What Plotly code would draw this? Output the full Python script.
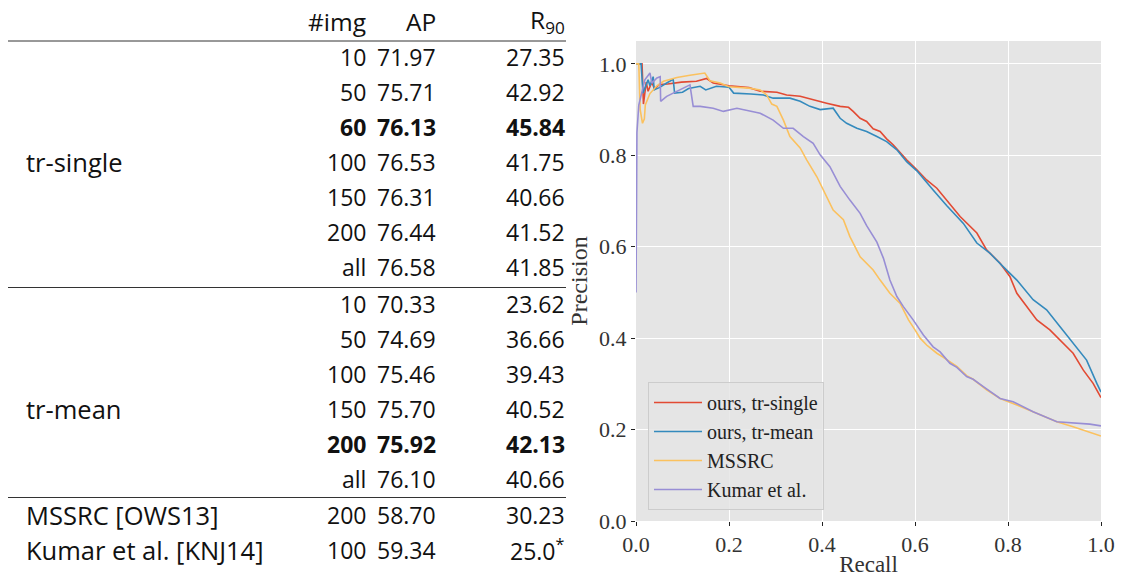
import plotly.graph_objects as go

# ---------------- table data ----------------
single_img = ["10", "50", "60", "100", "150", "200", "all"]
single_ap = ["71.97", "75.71", "76.13", "76.53", "76.31", "76.44", "76.58"]
single_r90 = ["27.35", "42.92", "45.84", "41.75", "40.66", "41.52", "41.85"]
single_bold = [False, False, True, False, False, False, False]

mean_img = ["10", "50", "100", "150", "200", "all"]
mean_ap = ["70.33", "74.69", "75.46", "75.70", "75.92", "76.10"]
mean_r90 = ["23.62", "36.66", "39.43", "40.52", "42.13", "40.66"]
mean_bold = [False, False, False, False, True, False]

other_names = ["MSSRC [OWS13]", "Kumar et al. [KNJ14]"]
other_img = ["200", "100"]
other_ap = ["58.70", "59.34"]
other_r90 = ["30.23", "25.0<sup>*</sup>"]

# ---------------- precision / recall curves ----------------
single_recall = [0.0, 0.013, 0.016, 0.022, 0.026, 0.034, 0.04, 0.05, 0.068, 0.098, 0.13, 0.152,
                 0.166, 0.2, 0.243, 0.267, 0.303, 0.324, 0.353, 0.381, 0.41, 0.439, 0.457, 0.467,
                 0.482, 0.496, 0.51, 0.525, 0.539, 0.553, 0.568, 0.582, 0.604, 0.625, 0.647, 0.668,
                 0.697, 0.733, 0.754, 0.783, 0.804, 0.819, 0.84, 0.862, 0.89, 0.919, 0.94, 0.962,
                 0.983, 1.0]
single_precision = [1.0, 1.0, 0.912, 0.96, 0.94, 0.96, 0.945, 0.955, 0.956, 0.96, 0.962, 0.968,
                    0.958, 0.952, 0.948, 0.94, 0.938, 0.932, 0.929, 0.921, 0.914, 0.907, 0.905, 0.896,
                    0.881, 0.874, 0.858, 0.852, 0.836, 0.823, 0.805, 0.79, 0.768, 0.746, 0.728, 0.702,
                    0.666, 0.63, 0.593, 0.564, 0.535, 0.498, 0.469, 0.44, 0.418, 0.389, 0.367, 0.33,
                    0.301, 0.27]

mean_recall = [0.0, 0.011, 0.015, 0.026, 0.03, 0.037, 0.039, 0.05, 0.066, 0.08, 0.083, 0.1, 0.113,
               0.138, 0.15, 0.173, 0.2, 0.21, 0.247, 0.274, 0.295, 0.331, 0.353, 0.374, 0.396,
               0.424, 0.439, 0.453, 0.475, 0.496, 0.518, 0.539, 0.561, 0.582, 0.604, 0.625, 0.639,
               0.668, 0.704, 0.733, 0.761, 0.79, 0.819, 0.854, 0.883, 0.912, 0.94, 0.969, 0.991, 1.0]
mean_precision = [1.0, 1.0, 0.936, 0.965, 0.952, 0.972, 0.943, 0.948, 0.958, 0.966, 0.936, 0.938,
                  0.946, 0.951, 0.943, 0.951, 0.949, 0.936, 0.934, 0.932, 0.925, 0.925, 0.918, 0.907,
                  0.9, 0.903, 0.881, 0.87, 0.859, 0.852, 0.841, 0.83, 0.812, 0.786, 0.766, 0.742,
                  0.724, 0.69, 0.651, 0.608, 0.586, 0.556, 0.527, 0.484, 0.462, 0.425, 0.389, 0.352,
                  0.301, 0.282]

mssrc_recall = [0.0, 0.006, 0.009, 0.014, 0.018, 0.02, 0.03, 0.045, 0.059, 0.088, 0.116, 0.148,
                0.159, 0.181, 0.2, 0.243, 0.267, 0.281, 0.292, 0.303, 0.317, 0.331, 0.353, 0.367,
                0.389, 0.41, 0.424, 0.446, 0.46, 0.482, 0.51, 0.525, 0.546, 0.568, 0.586, 0.6,
                0.611, 0.625, 0.647, 0.661, 0.69, 0.711, 0.725, 0.754, 0.783, 0.819, 0.854, 0.905,
                0.94, 0.976, 1.0]
mssrc_precision = [1.0, 1.0, 0.9, 0.87, 0.88, 0.91, 0.935, 0.952, 0.962, 0.97, 0.975, 0.98,
                   0.963, 0.958, 0.95, 0.947, 0.943, 0.932, 0.912, 0.907, 0.877, 0.841, 0.816, 0.79,
                   0.753, 0.71, 0.68, 0.659, 0.622, 0.578, 0.549, 0.527, 0.498, 0.476, 0.44, 0.418,
                   0.4, 0.385, 0.367, 0.358, 0.338, 0.318, 0.31, 0.287, 0.268, 0.254, 0.239, 0.217,
                   0.206, 0.195, 0.186]

kumar_recall = [0.0, 0.002, 0.006, 0.012, 0.019, 0.03, 0.034, 0.045, 0.052, 0.053, 0.066, 0.08,
                0.095, 0.109, 0.116, 0.123, 0.138, 0.166, 0.188, 0.217, 0.245, 0.267, 0.295, 0.317,
                0.338, 0.36, 0.381, 0.396, 0.417, 0.439, 0.46, 0.482, 0.496, 0.518, 0.532, 0.546,
                0.561, 0.575, 0.596, 0.611, 0.618, 0.639, 0.654, 0.675, 0.69, 0.711, 0.725, 0.747,
                0.783, 0.811, 0.854, 0.905, 0.94, 0.976, 1.0]
kumar_precision = [0.5, 0.85, 0.91, 0.936, 0.965, 0.98, 0.958, 0.969, 0.972, 0.918, 0.929, 0.936,
                   0.943, 0.95, 0.954, 0.907, 0.907, 0.903, 0.896, 0.903, 0.896, 0.892, 0.877, 0.859,
                   0.859, 0.841, 0.826, 0.801, 0.775, 0.732, 0.702, 0.673, 0.646, 0.61, 0.575, 0.527,
                   0.491, 0.469, 0.44, 0.418, 0.407, 0.381, 0.37, 0.345, 0.336, 0.316, 0.31, 0.294,
                   0.268, 0.261, 0.239, 0.217, 0.214, 0.212, 0.208]

tick_vals = [0.0, 0.2, 0.4, 0.6, 0.8, 1.0]
tick_text = ["0.0", "0.2", "0.4", "0.6", "0.8", "1.0"]

W, H = 1122, 577
SANS = "'Open Sans', 'Noto Sans', sans-serif"
SERIF = "'Liberation Serif', 'DejaVu Serif', serif"
TXT = "#111111"


def px(x):
    return x / W


def py(y):
    return 1 - y / H


fig = go.Figure()

curves = [
    ("ours, tr-single", single_recall, single_precision, "#E24A33"),
    ("ours, tr-mean", mean_recall, mean_precision, "#348ABD"),
    ("MSSRC", mssrc_recall, mssrc_precision, "#FBC15E"),
    ("Kumar et al.", kumar_recall, kumar_precision, "#988ED5"),
]
for name, r, p, c in curves:
    fig.add_trace(go.Scatter(x=r, y=p, mode="lines", name=name, legendgroup=name,
                             line=dict(color=c, width=1.6)))

# ---------------- table text ----------------
annotations = []
shapes = []

NUM_SIZE = 23
LABEL_SIZE = 25.5


def cell(text, x, y, anchor="right", bold=False, size=NUM_SIZE):
    t = f"<b>{text}</b>" if bold else text
    annotations.append(dict(text=t, x=px(x), y=py(y), xref="paper", yref="paper",
                            xanchor=anchor, yanchor="middle", showarrow=False, borderpad=0,
                            font=dict(family=SANS, size=size, color=TXT)))


COL_IMG, COL_AP, COL_R = 367, 437, 566
LEFT = 25

cell("#img", COL_IMG, 21, size=LABEL_SIZE - 1)
cell("AP", COL_AP, 21, size=LABEL_SIZE - 1)
cell("R<sub>90</sub>", COL_R, 21, size=LABEL_SIZE - 1)

rows_single = [57, 92, 127, 162, 197, 232, 267]
for i, y in enumerate(rows_single):
    b = single_bold[i]
    cell(single_img[i], COL_IMG, y, bold=b)
    cell(single_ap[i], COL_AP, y, bold=b)
    cell(single_r90[i], COL_R, y, bold=b)
cell("tr-single", LEFT, rows_single[3], anchor="left", size=LABEL_SIZE)

rows_mean = [304, 339, 374, 409, 444, 479]
for i, y in enumerate(rows_mean):
    b = mean_bold[i]
    cell(mean_img[i], COL_IMG, y, bold=b)
    cell(mean_ap[i], COL_AP, y, bold=b)
    cell(mean_r90[i], COL_R, y, bold=b)
cell("tr-mean", LEFT, rows_mean[3], anchor="left", size=LABEL_SIZE)

rows_other = [515, 550]
for i, y in enumerate(rows_other):
    cell(other_names[i], LEFT, y, anchor="left", size=LABEL_SIZE)
    cell(other_img[i], COL_IMG, y)
    cell(other_ap[i], COL_AP, y)
    cell(other_r90[i], COL_R, y)

for y in (41.0, 287.5, 497.5):
    shapes.append(dict(type="line", xref="paper", yref="paper",
                       x0=px(8), x1=px(566), y0=py(y), y1=py(y),
                       line=dict(color="#333333", width=1)))

# ---------------- plot area ----------------
x0, x1 = 636, 1101
y_top, y_bot = 41, 521

axis_common = dict(
    tickvals=tick_vals, ticktext=tick_text,
    showgrid=True, gridcolor="white", gridwidth=1, zeroline=False,
    ticks="outside", ticklen=4, tickcolor="#222222", showline=False,
    tickfont=dict(family=SERIF, size=22, color="#333333"),
    automargin=False,
)

fig.update_layout(
    width=W, height=H, autosize=False,
    margin=dict(l=0, r=0, t=0, b=0, pad=0),
    paper_bgcolor="white",
    plot_bgcolor="#E5E5E5",
    annotations=annotations,
    shapes=shapes,
    showlegend=True,
    legend=dict(x=px(648), y=py(510), xref="paper", yref="paper",
                xanchor="left", yanchor="bottom",
                bgcolor="rgba(229,229,229,0.85)", bordercolor="#CCCCCC", borderwidth=1,
                font=dict(family=SERIF, size=20, color="#222222"),
                tracegroupgap=0, itemwidth=48),
    xaxis=dict(domain=[px(x0), px(x1)], range=[0, 1],
               title=dict(text="Recall", font=dict(family=SERIF, size=23, color="#333333"),
                          standoff=0),
               **axis_common),
    yaxis=dict(domain=[py(y_bot), py(y_top)], range=[0, 1.05],
               title=dict(text="Precision", font=dict(family=SERIF, size=24, color="#333333"),
                          standoff=4),
               **axis_common),
)

fig.write_html("out.html")
